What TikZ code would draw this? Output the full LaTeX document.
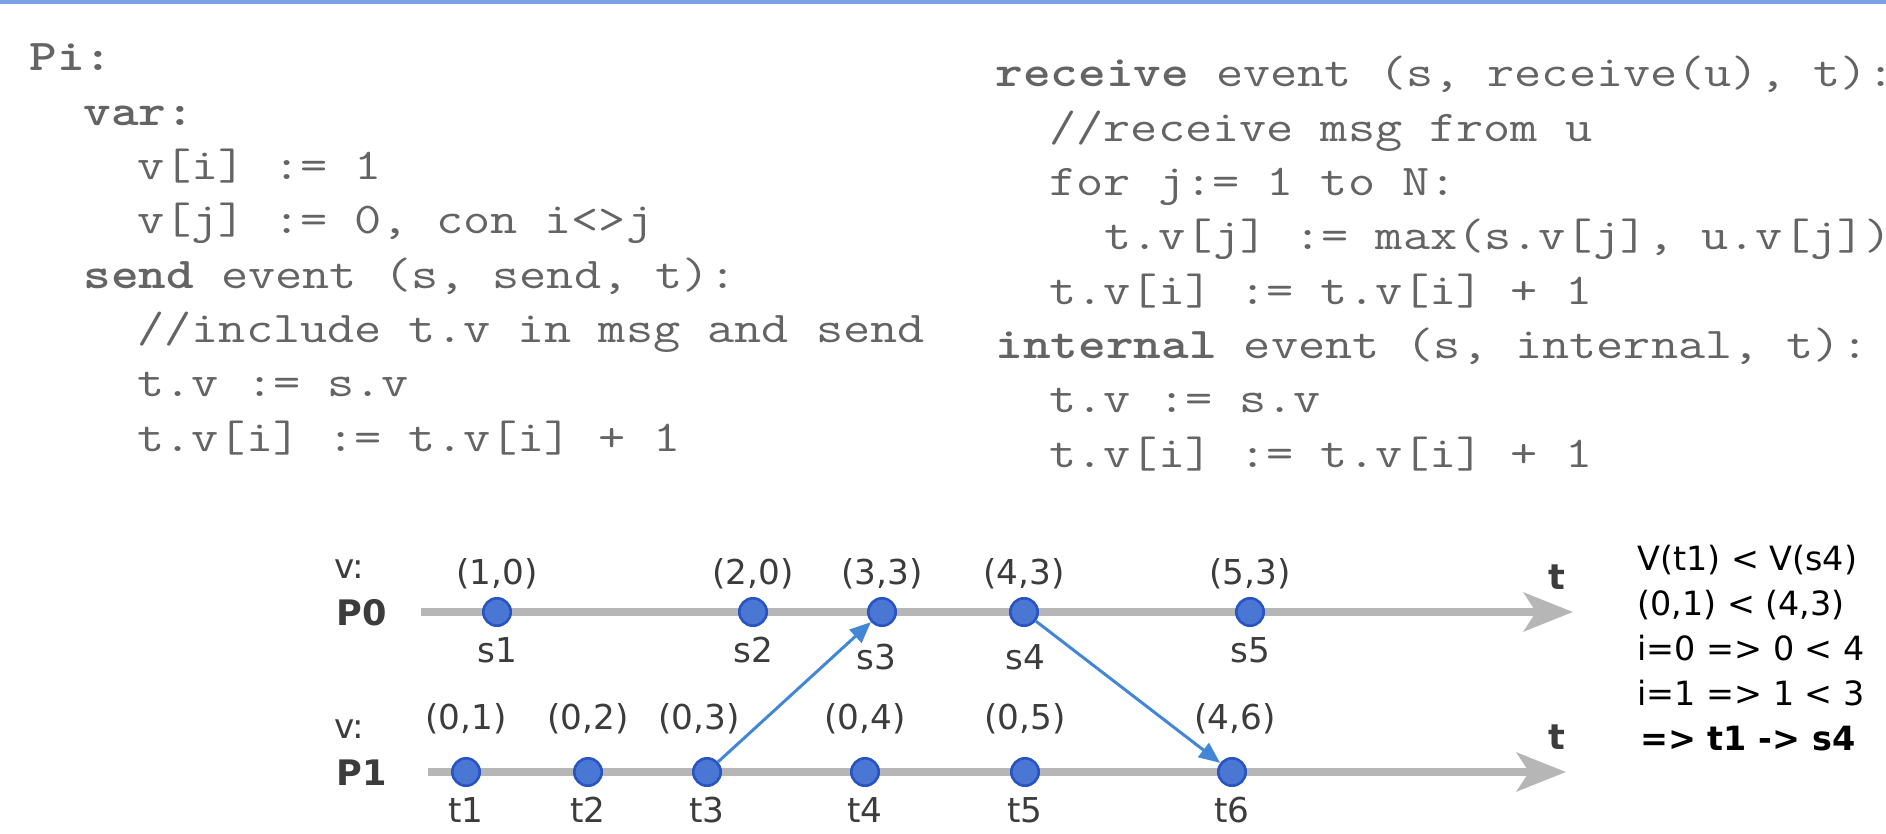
\documentclass[tikz,border=0pt]{standalone}
\usepackage{fontspec}
\newfontfamily\dejavu{DejaVu Sans}
\usetikzlibrary{arrows.meta,positioning}

\definecolor{topblue}{RGB}{123,160,228}
\definecolor{codegray}{RGB}{100,100,100}
\definecolor{labelgray}{RGB}{60,60,60}
\definecolor{linegray}{RGB}{182,182,182}
\definecolor{dotfill}{RGB}{74,118,212}
\definecolor{dotborder}{RGB}{40,84,196}
\definecolor{msgblue}{RGB}{66,134,214}

\begin{document}
\begin{tikzpicture}[
    x=0.02cm, y=-0.02cm,
    code/.style={font=\fontsize{25pt}{30pt}\selectfont\ttfamily, text=codegray, anchor=base west, inner sep=0pt, xscale=1.2},
    event/.style={circle, draw=dotborder, fill=dotfill, line width=1.5pt, minimum size=15.6pt, inner sep=0pt},
    vec/.style={font=\dejavu\fontsize{19.5pt}{23pt}\selectfont, text=labelgray, inner sep=0pt},
    proc/.style={font=\dejavu\bfseries\fontsize{20pt}{24pt}\selectfont, text=labelgray, anchor=base west, inner sep=0pt},
    timeline/.style={line width=4.3pt, draw=linegray, -{Stealth[length=28pt, width=22pt, inset=7pt]}},
    msg/.style={line width=1.7pt, draw=msgblue, -{Triangle[length=12pt, width=10pt]}},
    note/.style={font=\dejavu\fontsize{19pt}{23pt}\selectfont, anchor=base west, inner sep=0pt}
]
\fill[white] (0,0) rectangle (1886,834);
\useasboundingbox (0,0) rectangle (1886,834);
\fill[topblue] (0,0) rectangle (1886,4);

% Pi: send
\node[code] (pi) at (29,71) {\textbf{Pi:}};
\node[code] (var) at (83,125.3) {\textbf{var:}};
\node[code] (vi) at (137,179.6) {v[i] := 1};
\node[code] (vj) at (137,233.9) {v[j] := 0, con i<>j};
\node[code] (send) at (83,288.2) {\textbf{send} event (s, send, t):};
\node[code] (incl) at (137,342.5) {//include t.v in msg and send};
\node[code] (sv) at (137,396.8) {t.v := s.v};
\node[code] (inc) at (137,451.1) {t.v[i] := t.v[i] + 1};

% receive / internal
\node[code] (recv) at (995,87) {\textbf{receive} event (s, receive(u), t):};
\node[code] (rmsg) at (1049,141.3) {//receive msg from u};
\node[code] (for) at (1049,195.6) {for j:= 1 to N:};
\node[code] (max) at (1104,249.9) {t.v[j] := max(s.v[j], u.v[j])};
\node[code] (rinc) at (1049,304.2) {t.v[i] := t.v[i] + 1};
\node[code] (int) at (995,358.5) {\textbf{internal} event (s, internal, t):};
\node[code] (isv) at (1049,412.8) {t.v := s.v};
\node[code] (iinc) at (1049,467.1) {t.v[i] := t.v[i] + 1};

% time lines
\coordinate (p0start) at (421,612);
\coordinate (p0end) at (1573,612);
\coordinate (p1start) at (428,772);
\coordinate (p1end) at (1566,772);
\draw[timeline] (p0start) -- (p0end);
\draw[timeline] (p1start) -- (p1end);

\node[vec, anchor=base west] (v-p0) at (334,578) {v:};
\node[proc] (p0) at (336,625) {P0};
\node[vec, anchor=base west] (v-p1) at (334,738) {v:};
\node[proc] (p1) at (336,785) {P1};
\node[proc, anchor=base] (time0) at (1557,589) {t};
\node[proc, anchor=base] (time1) at (1557,749) {t};

% events of P0
\node[event] (s1) at (497,612) {};
\node[event] (s2) at (753,612) {};
\node[event] (s3) at (882,612) {};
\node[event] (s4) at (1024,612) {};
\node[event] (s5) at (1250,612) {};
\node[vec, above=4.5pt of s1] (v-s1) {(1,0)};
\node[vec, above=4.5pt of s2] (v-s2) {(2,0)};
\node[vec, above=4.5pt of s3] (v-s3) {(3,3)};
\node[vec, above=4.5pt of s4] (v-s4) {(4,3)};
\node[vec, above=4.5pt of s5] (v-s5) {(5,3)};
\node[vec, below=5.7pt of s1] (n-s1) {s1};
\node[vec, below=5.7pt of s2] (n-s2) {s2};
\node[vec, below=9.7pt of s3, xshift=-3.4pt] (n-s3) {s3};
\node[vec, below=9.7pt of s4, xshift=1pt] (n-s4) {s4};
\node[vec, below=5.7pt of s5] (n-s5) {s5};

% events of P1
\node[event] (t1) at (466,772) {};
\node[event] (t2) at (588,772) {};
\node[event] (t3) at (707,772) {};
\node[event] (t4) at (865,772) {};
\node[event] (t5) at (1025,772) {};
\node[event] (t6) at (1232,772) {};
\node[vec, above=13pt of t1] (v-t1) {(0,1)};
\node[vec, above=13pt of t2] (v-t2) {(0,2)};
\node[vec, above=13pt of t3, xshift=-4.5pt] (v-t3) {(0,3)};
\node[vec, above=13pt of t4] (v-t4) {(0,4)};
\node[vec, above=13pt of t5] (v-t5) {(0,5)};
\node[vec, above=13pt of t6, xshift=1.7pt] (v-t6) {(4,6)};
\node[vec, below=5.7pt of t1] (n-t1) {t1};
\node[vec, below=5.7pt of t2] (n-t2) {t2};
\node[vec, below=5.7pt of t3] (n-t3) {t3};
\node[vec, below=5.7pt of t4] (n-t4) {t4};
\node[vec, below=5.7pt of t5] (n-t5) {t5};
\node[vec, below=5.7pt of t6] (n-t6) {t6};

% messages
\draw[msg] (t3) -- (s3);
\draw[msg] (s4) -- (t6);

% comparison
\node[note] (r1) at (1637,570) {V(t1) < V(s4)};
\node[note] (r2) at (1637,615) {(0,1) < (4,3)};
\node[note] (r3) at (1637,660) {i=0 => 0 < 4};
\node[note] (r4) at (1637,705) {i=1 => 1 < 3};
\node[note] (r5) at (1640,750) {\bfseries => t1 -> s4};

\end{tikzpicture}
\end{document}
